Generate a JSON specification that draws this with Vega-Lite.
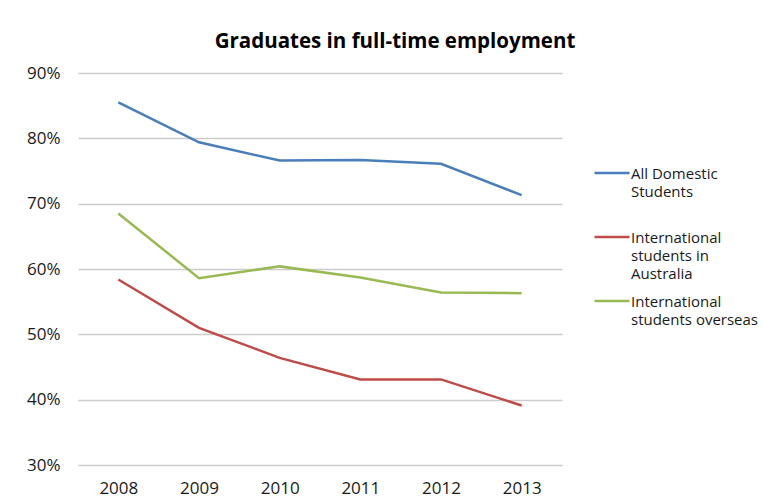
{
  "$schema": "https://vega.github.io/schema/vega-lite/v6.json",
  "width": 484,
  "height": 392,
  "autosize": {"type": "none"},
  "padding": {"left": 78, "top": 73, "right": 201, "bottom": 38},
  "background": "white",
  "title": {
    "text": "Graduates in full-time employment",
    "font": "Open Sans",
    "fontSize": 20.5,
    "fontWeight": "bold",
    "color": "#000000",
    "anchor": "middle",
    "dx": 75,
    "offset": 12
  },
  "config": {
    "view": {"stroke": null},
    "font": "Open Sans"
  },
  "data": {
    "values": [
      {"year": "2008", "series": "All Domestic Students", "value": 0.855},
      {"year": "2009", "series": "All Domestic Students", "value": 0.794},
      {"year": "2010", "series": "All Domestic Students", "value": 0.766},
      {"year": "2011", "series": "All Domestic Students", "value": 0.767},
      {"year": "2012", "series": "All Domestic Students", "value": 0.761},
      {"year": "2013", "series": "All Domestic Students", "value": 0.713},
      {"year": "2008", "series": "International students in Australia", "value": 0.584},
      {"year": "2009", "series": "International students in Australia", "value": 0.510},
      {"year": "2010", "series": "International students in Australia", "value": 0.464},
      {"year": "2011", "series": "International students in Australia", "value": 0.431},
      {"year": "2012", "series": "International students in Australia", "value": 0.431},
      {"year": "2013", "series": "International students in Australia", "value": 0.391},
      {"year": "2008", "series": "International students overseas", "value": 0.685},
      {"year": "2009", "series": "International students overseas", "value": 0.586},
      {"year": "2010", "series": "International students overseas", "value": 0.604},
      {"year": "2011", "series": "International students overseas", "value": 0.587},
      {"year": "2012", "series": "International students overseas", "value": 0.564},
      {"year": "2013", "series": "International students overseas", "value": 0.563}
    ]
  },
  "mark": {"type": "line", "strokeWidth": 2.5},
  "encoding": {
    "x": {
      "field": "year",
      "type": "ordinal",
      "scale": {"type": "point", "padding": 0.5},
      "axis": {
        "title": null,
        "labelAngle": 0,
        "labelFontSize": 17,
        "labelColor": "#1a1a1a",
        "labelPadding": 15,
        "ticks": false,
        "domain": false,
        "grid": false
      }
    },
    "y": {
      "field": "value",
      "type": "quantitative",
      "scale": {"domain": [0.3, 0.9], "nice": false, "zero": false},
      "axis": {
        "title": null,
        "format": ".0%",
        "values": [0.3, 0.4, 0.5, 0.6, 0.7, 0.8, 0.9],
        "labelFontSize": 17,
        "labelColor": "#1a1a1a",
        "labelPadding": 18,
        "ticks": false,
        "domain": false,
        "grid": true,
        "gridColor": "#cccccc",
        "gridWidth": 1.5
      }
    },
    "color": {
      "field": "series",
      "type": "nominal",
      "scale": {
        "domain": ["All Domestic Students", "International students in Australia", "International students overseas"],
        "range": ["#4a7ebb", "#be4b48", "#98b954"]
      },
      "legend": {
        "title": null,
        "orient": "none",
        "legendX": 515,
        "legendY": 81,
        "symbolType": "stroke",
        "symbolSize": 1225,
        "symbolStrokeWidth": 2.5,
        "labelFontSize": 15,
        "labelColor": "#1a1a1a",
        "labelBaseline": "alphabetic",
        "labelLimit": 200,
        "rowPadding": 0,
        "labelOffset": 0,
        "labelExpr": "datum.label == 'All Domestic Students' ? ['All Domestic', 'Students', ' '] : datum.label == 'International students in Australia' ? ['International', 'students in', 'Australia'] : ['International', 'students overseas', ' ']",
        "encode": {
          "labels": {
            "update": {
              "dy": {"value": 6},
              "lineHeight": {"value": 18}
            }
          }
        }
      }
    }
  }
}
